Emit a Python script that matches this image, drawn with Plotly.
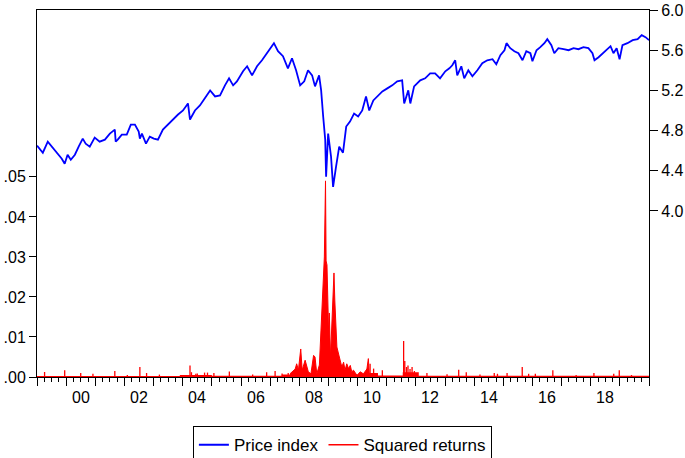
import plotly.graph_objects as go

# price index (log level, right axis), decimal years
price_t = [1999.00, 1999.20, 1999.37, 1999.51, 1999.68, 1999.85, 1999.95, 2000.05, 2000.16, 2000.30,
           2000.43, 2000.57, 2000.67, 2000.81, 2000.98, 2001.15, 2001.33, 2001.50, 2001.67, 2001.70,
           2001.77, 2001.91, 2002.08, 2002.22, 2002.36, 2002.49, 2002.53, 2002.60, 2002.74, 2002.87,
           2003.01, 2003.15, 2003.32, 2003.49, 2003.67, 2003.84, 2004.01, 2004.18, 2004.25, 2004.42,
           2004.59, 2004.76, 2004.94, 2005.11, 2005.28, 2005.45, 2005.59, 2005.73, 2005.86, 2006.07,
           2006.21, 2006.38, 2006.55, 2006.72, 2006.89, 2007.07, 2007.13, 2007.27, 2007.44, 2007.61,
           2007.75, 2007.89, 2008.03, 2008.17, 2008.30, 2008.44, 2008.54, 2008.68, 2008.75, 2008.82,
           2008.89, 2008.92, 2008.95, 2008.99, 2009.09, 2009.16, 2009.26, 2009.37, 2009.50, 2009.61,
           2009.74, 2009.88, 2010.02, 2010.16, 2010.29, 2010.40, 2010.54, 2010.67, 2010.85, 2011.02,
           2011.19, 2011.36, 2011.53, 2011.60, 2011.74, 2011.81, 2011.94, 2012.15, 2012.32, 2012.49,
           2012.66, 2012.83, 2013.01, 2013.15, 2013.25, 2013.35, 2013.42, 2013.56, 2013.66, 2013.80,
           2013.94, 2014.11, 2014.28, 2014.45, 2014.63, 2014.76, 2014.90, 2015.04, 2015.11, 2015.24,
           2015.38, 2015.52, 2015.66, 2015.79, 2015.93, 2016.00, 2016.14, 2016.27, 2016.41, 2016.51,
           2016.65, 2016.75, 2016.89, 2017.07, 2017.24, 2017.41, 2017.58, 2017.75, 2017.92, 2018.06,
           2018.13, 2018.27, 2018.41, 2018.54, 2018.68, 2018.78, 2018.89, 2018.99, 2019.09, 2019.26,
           2019.44, 2019.61, 2019.75, 2019.88, 2020.00]
price_v = [4.65, 4.58, 4.69, 4.64, 4.59, 4.52, 4.47, 4.56, 4.51, 4.56,
           4.64, 4.72, 4.67, 4.64, 4.73, 4.69, 4.71, 4.77, 4.81, 4.69,
           4.71, 4.76, 4.76, 4.86, 4.86, 4.79, 4.72, 4.77, 4.67, 4.74,
           4.72, 4.71, 4.81, 4.86, 4.91, 4.96, 5.00, 5.07, 4.91, 5.00,
           5.05, 5.12, 5.20, 5.14, 5.15, 5.25, 5.32, 5.25, 5.29, 5.39,
           5.44, 5.35, 5.44, 5.50, 5.57, 5.65, 5.67, 5.59, 5.54, 5.42,
           5.52, 5.40, 5.25, 5.29, 5.40, 5.35, 5.24, 5.35, 5.20, 4.94,
           4.71, 4.34, 4.58, 4.77, 4.54, 4.24, 4.44, 4.64, 4.58, 4.84,
           4.89, 4.97, 4.94, 5.00, 5.14, 5.00, 5.10, 5.14, 5.19, 5.22,
           5.25, 5.29, 5.30, 5.07, 5.20, 5.07, 5.24, 5.30, 5.32, 5.37,
           5.37, 5.32, 5.39, 5.42, 5.45, 5.50, 5.35, 5.44, 5.32, 5.40,
           5.34, 5.40, 5.47, 5.50, 5.51, 5.46, 5.55, 5.60, 5.67, 5.62,
           5.59, 5.57, 5.50, 5.59, 5.57, 5.49, 5.60, 5.63, 5.67, 5.71,
           5.65, 5.57, 5.62, 5.61, 5.60, 5.62, 5.61, 5.63, 5.62, 5.57,
           5.50, 5.53, 5.57, 5.61, 5.64, 5.57, 5.62, 5.51, 5.65, 5.67,
           5.70, 5.71, 5.75, 5.73, 5.70]

# squared returns: isolated spikes outside the crisis
spike_t = [1999.26, 1999.95, 2000.50, 2000.92, 2001.67, 2002.10, 2002.53, 2002.76, 2003.20, 2004.25,
           2004.30, 2004.45, 2004.50, 2004.75, 2004.85, 2005.07, 2005.60, 2006.40, 2006.88, 2007.17,
           2007.41, 2007.62, 2010.43, 2010.55, 2010.85, 2011.58, 2011.62, 2011.68, 2011.73, 2011.80,
           2011.87, 2011.95, 2012.38, 2013.07, 2013.47, 2013.73, 2014.20, 2014.69, 2014.80, 2015.13,
           2015.65, 2015.87, 2016.10, 2016.70, 2017.50, 2018.11, 2018.79, 2018.98, 2019.40]
spike_v = [0.00125, 0.0017, 0.0010, 0.0008, 0.0015, 0.0005, 0.0025, 0.0010, 0.0006, 0.0029,
           0.0012, 0.0008, 0.0009, 0.0011, 0.0011, 0.0010, 0.0014, 0.0006, 0.0012, 0.0015,
           0.0009, 0.0010, 0.0033, 0.0021, 0.0017, 0.0090, 0.0040, 0.0025, 0.0029, 0.0020,
           0.0025, 0.0015, 0.0010, 0.0007, 0.0018, 0.0012, 0.0006, 0.0010, 0.0008, 0.0010,
           0.0025, 0.0008, 0.0008, 0.0017, 0.0005, 0.0010, 0.0008, 0.0017, 0.0005]

# squared returns: dense stretch around the crisis
crisis_t = [2007.68, 2007.86, 2007.91, 2007.97, 2008.05, 2008.10, 2008.20, 2008.26, 2008.31, 2008.40,
            2008.49, 2008.54, 2008.60, 2008.69, 2008.74, 2008.78, 2008.83, 2008.86, 2008.90, 2008.92,
            2008.95, 2008.98, 2009.01, 2009.03, 2009.07, 2009.10, 2009.15, 2009.19, 2009.22, 2009.25,
            2009.29, 2009.34, 2009.40, 2009.46, 2009.52, 2009.57, 2009.63, 2009.69, 2009.75, 2009.80,
            2009.86, 2009.98, 2010.09, 2010.20, 2010.32, 2010.37, 2010.40]
crisis_v = [0.0008, 0.0020, 0.0033, 0.0017, 0.0070, 0.0017, 0.0042, 0.0029, 0.0013, 0.0008,
            0.0054, 0.0050, 0.0008, 0.0030, 0.0110, 0.0190, 0.0260, 0.0300, 0.0490, 0.0290,
            0.0280, 0.0150, 0.0100, 0.0160, 0.0050, 0.0100, 0.0200, 0.0260, 0.0190, 0.0140,
            0.0075, 0.0060, 0.0040, 0.0025, 0.0037, 0.0017, 0.0033, 0.0021, 0.0029, 0.0013,
            0.0017, 0.0004, 0.0013, 0.0008, 0.0020, 0.0046, 0.0010]

# low noise floor of the squared returns
band_t = [1999.0, 2003.9, 2005.0, 2007.4, 2010.0, 2010.3, 2010.7, 2011.55, 2012.1, 2020.0]
band_v = [0.00025, 0.0005, 0.0003, 0.0006, 0.0005, 0.0010, 0.0004, 0.0012, 0.0003, 0.0003]

year_labels = ["00", "02", "04", "06", "08", "10", "12", "14", "16", "18"]
year_label_pos = [2000.5, 2002.5, 2004.5, 2006.5, 2008.5, 2010.5, 2012.5, 2014.5, 2016.5, 2018.5]

BLUE = "#0000FF"
RED = "#FF0000"
FONT = "Liberation Sans, Arial, sans-serif"

stem_x, stem_y = [], []
for t, v in zip(spike_t, spike_v):
    stem_x.extend([t, t, None])
    stem_y.extend([0, v, None])

fig = go.Figure()
fig.add_trace(go.Scatter(x=band_t, y=band_v, mode="lines", line=dict(color=RED, width=0, shape="hv"),
                         fill="tozeroy", fillcolor=RED, showlegend=False, hoverinfo="skip"))
fig.add_trace(go.Scatter(x=crisis_t, y=crisis_v, mode="lines", line=dict(color=RED, width=1),
                         fill="tozeroy", fillcolor=RED, showlegend=False))
fig.add_trace(go.Scatter(x=price_t, y=price_v, mode="lines", name="Price index",
                         line=dict(color=BLUE, width=1.8), yaxis="y2"))
fig.add_trace(go.Scatter(x=stem_x, y=stem_y, mode="lines", name="Squared returns",
                         line=dict(color=RED, width=1.3)))

for lab, pos in zip(year_labels, year_label_pos):
    fig.add_annotation(x=pos, y=-0.056, xref="x", yref="paper", text=lab, showarrow=False,
                       yanchor="middle", font=dict(family=FONT, size=16, color="black"))

fig.update_layout(
    width=685, height=458,
    margin=dict(l=37, r=36, t=10, b=81, autoexpand=False),
    paper_bgcolor="white", plot_bgcolor="white",
    font=dict(family=FONT, size=16, color="black"),
    xaxis=dict(range=[1999, 2020], tickmode="array", tickvals=list(range(1999, 2021)),
               ticktext=[""] * 22, ticks="outside", ticklen=8, tickcolor="black",
               showline=True, linecolor="black", linewidth=1, mirror=True,
               showgrid=False, zeroline=False, automargin=False,
               minor=dict(dtick=0.25, tick0=1999, ticks="outside", ticklen=4,
                          tickcolor="black", showgrid=False)),
    yaxis=dict(range=[0, 0.0917], tickmode="array",
               tickvals=[0, 0.01, 0.02, 0.03, 0.04, 0.05],
               ticktext=[".00", ".01", ".02", ".03", ".04", ".05"],
               ticks="outside", ticklen=7, tickcolor="black",
               showline=True, linecolor="black", linewidth=1,
               showgrid=False, zeroline=False, automargin=False),
    yaxis2=dict(range=[2.348, 6.0], overlaying="y", side="right", tickmode="array",
                tickvals=[4.0, 4.4, 4.8, 5.2, 5.6, 6.0],
                ticktext=["4.0", "4.4", "4.8", "5.2", "5.6", "6.0"],
                ticks="outside", ticklen=8, tickcolor="black",
                showline=True, linecolor="black", linewidth=1,
                showgrid=False, zeroline=False, automargin=False),
    legend=dict(orientation="h", x=0.499, y=-0.134, xanchor="center", yanchor="top",
                bordercolor="black", borderwidth=1, font=dict(family=FONT, size=17),
                traceorder="normal"),
    showlegend=True,
)

# the page's default body margin would shift the figure off the window
fig.write_html("out.html", config={"displayModeBar": False},
               post_script="document.body.style.margin='0';")
